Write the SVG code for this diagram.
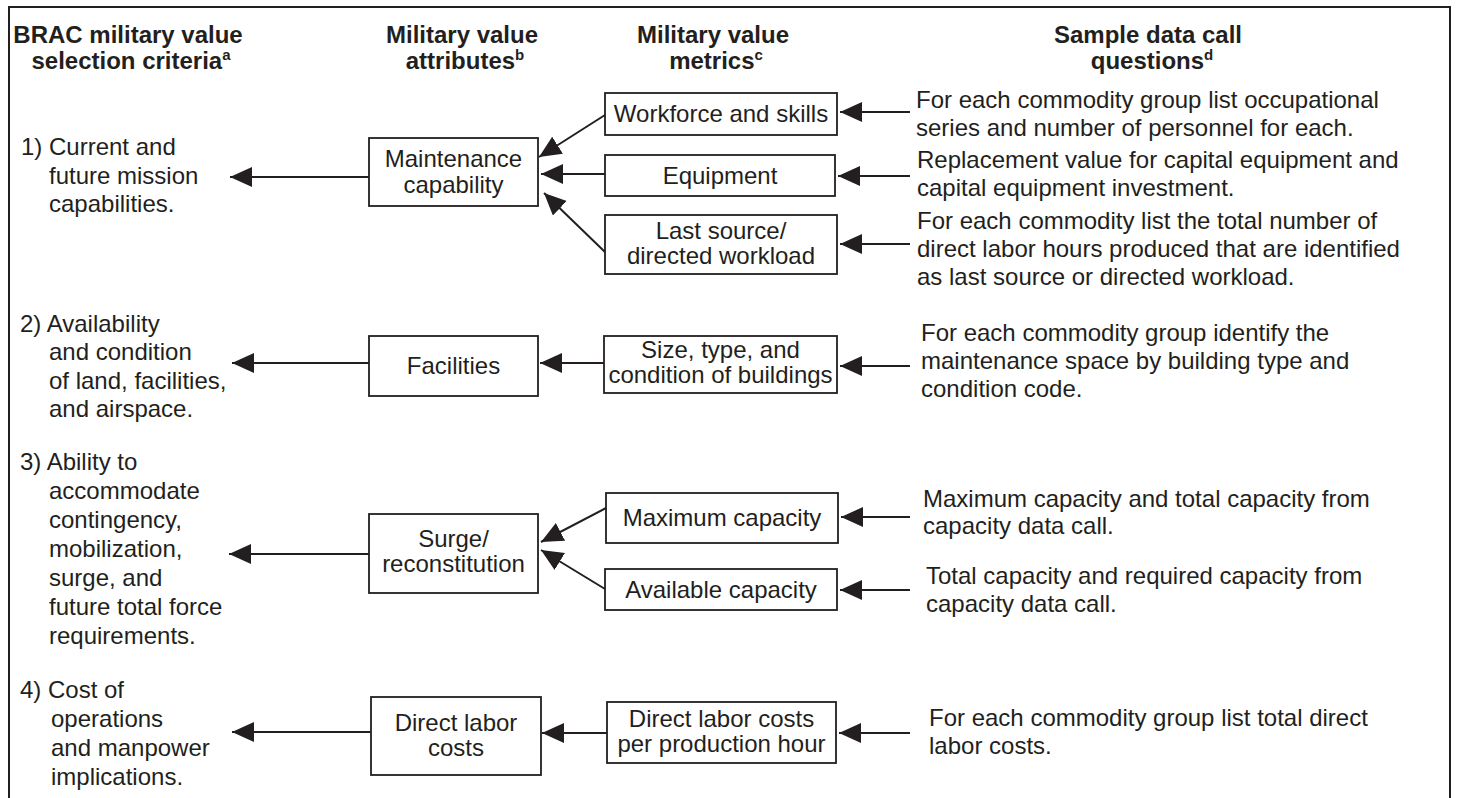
<svg xmlns="http://www.w3.org/2000/svg" width="1457" height="798" viewBox="0 0 1457 798">
<style>
text{font-family:"Liberation Sans",Arial,Helvetica,sans-serif;font-size:24px;fill:#231f20}
.h{font-weight:bold}
.c{text-anchor:middle}
.sup{font-size:15px}
.box{fill:#fff;stroke:#231f20;stroke-width:1.8}
.ln{fill:none;stroke:#231f20;stroke-width:2}
</style>
<defs>
<marker id="ah" markerUnits="userSpaceOnUse" markerWidth="24" markerHeight="22" refX="22" refY="10" orient="auto">
<path d="M0,0 L22,10 L0,20 z" fill="#231f20"/>
</marker>
</defs>
<rect width="1457" height="798" fill="#fff"/>
<path d="M9,798 V7 H1450 V798" fill="none" stroke="#231f20" stroke-width="2"/>

<g id="headers">
<text class="h c" x="128" y="43">BRAC military value</text>
<text class="h c" x="131" y="69">selection criteria<tspan class="sup" dy="-9">a</tspan></text>
<text class="h c" x="462" y="43">Military value</text>
<text class="h c" x="465" y="69">attributes<tspan class="sup" dy="-9">b</tspan></text>
<text class="h c" x="713" y="43">Military value</text>
<text class="h c" x="716" y="69">metrics<tspan class="sup" dy="-9">c</tspan></text>
<text class="h c" x="1148" y="43">Sample data call</text>
<text class="h c" x="1152" y="69">questions<tspan class="sup" dy="-9">d</tspan></text>
</g>

<g id="criterion1">
<text x="21" y="155">1) Current and</text>
<text x="49" y="184">future mission</text>
<text x="49" y="212">capabilities.</text>
</g>
<g id="criterion2">
<text x="20" y="332">2) Availability</text>
<text x="49" y="360">and condition</text>
<text x="49" y="389">of land, facilities,</text>
<text x="49" y="417">and airspace.</text>
</g>
<g id="criterion3">
<text x="20" y="470">3) Ability to</text>
<text x="49" y="499">accommodate</text>
<text x="49" y="528">contingency,</text>
<text x="49" y="557">mobilization,</text>
<text x="49" y="586">surge, and</text>
<text x="49" y="615">future total force</text>
<text x="49" y="644">requirements.</text>
</g>
<g id="criterion4">
<text x="20" y="698">4) Cost of</text>
<text x="51" y="727">operations</text>
<text x="51" y="756">and manpower</text>
<text x="51" y="785">implications.</text>
</g>

<g id="attr-maintenance">
<rect class="box" x="369" y="138" width="169" height="68"/>
<text class="c" x="453.5" y="167">Maintenance</text>
<text class="c" x="453.5" y="193">capability</text>
</g>
<g id="attr-facilities">
<rect class="box" x="369" y="336" width="169" height="60"/>
<text class="c" x="453.5" y="374">Facilities</text>
</g>
<g id="attr-surge">
<rect class="box" x="369" y="514" width="169" height="79"/>
<text class="c" x="453.5" y="547">Surge/</text>
<text class="c" x="453.5" y="572">reconstitution</text>
</g>
<g id="attr-directlabor">
<rect class="box" x="371" y="697" width="170" height="78"/>
<text class="c" x="456" y="731">Direct labor</text>
<text class="c" x="456" y="756">costs</text>
</g>

<g id="metric-workforce">
<rect class="box" x="605" y="93" width="232" height="42"/>
<text class="c" x="721" y="122">Workforce and skills</text>
</g>
<g id="metric-equipment">
<rect class="box" x="605" y="155" width="230" height="41"/>
<text class="c" x="720" y="184">Equipment</text>
</g>
<g id="metric-lastsource">
<rect class="box" x="605" y="215" width="232" height="59"/>
<text class="c" x="721" y="239">Last source/</text>
<text class="c" x="721" y="264">directed workload</text>
</g>
<g id="metric-size">
<rect class="box" x="604" y="336" width="233" height="57"/>
<text class="c" x="720.5" y="358">Size, type, and</text>
<text class="c" x="720.5" y="383">condition of buildings</text>
</g>
<g id="metric-maxcap">
<rect class="box" x="606" y="493" width="232" height="50"/>
<text class="c" x="722" y="526">Maximum capacity</text>
</g>
<g id="metric-availcap">
<rect class="box" x="605" y="569" width="232" height="41"/>
<text class="c" x="721" y="598">Available capacity</text>
</g>
<g id="metric-dlcph">
<rect class="box" x="607" y="702" width="229" height="61"/>
<text class="c" x="721.5" y="727">Direct labor costs</text>
<text class="c" x="721.5" y="752">per production hour</text>
</g>

<g id="question-workforce">
<text x="916" y="108">For each commodity group list occupational</text>
<text x="916" y="136">series and number of personnel for each.</text>
</g>
<g id="question-equipment">
<text x="917" y="168">Replacement value for capital equipment and</text>
<text x="917" y="196">capital equipment investment.</text>
</g>
<g id="question-lastsource">
<text x="917" y="229">For each commodity list the total number of</text>
<text x="917" y="257">direct labor hours produced that are identified</text>
<text x="917" y="285">as last source or directed workload.</text>
</g>
<g id="question-size">
<text x="921" y="341">For each commodity group identify the</text>
<text x="921" y="369">maintenance space by building type and</text>
<text x="921" y="397">condition code.</text>
</g>
<g id="question-maxcap">
<text x="923" y="507">Maximum capacity and total capacity from</text>
<text x="923" y="534">capacity data call.</text>
</g>
<g id="question-availcap">
<text x="926" y="584">Total capacity and required capacity from</text>
<text x="926" y="612">capacity data call.</text>
</g>
<g id="question-dlcph">
<text x="929" y="726">For each commodity group list total direct</text>
<text x="929" y="754">labor costs.</text>
</g>

<g id="connectors" class="ln">
<line class="ln" x1="369" y1="177" x2="230" y2="177" marker-end="url(#ah)"/>
<line class="ln" x1="369" y1="363" x2="232" y2="363" marker-end="url(#ah)"/>
<line class="ln" x1="369" y1="554" x2="229" y2="554" marker-end="url(#ah)"/>
<line class="ln" x1="371" y1="732" x2="232" y2="732" marker-end="url(#ah)"/>

<line class="ln" x1="605" y1="115" x2="539" y2="157" marker-end="url(#ah)"/>
<line class="ln" x1="605" y1="174" x2="541" y2="174" marker-end="url(#ah)"/>
<line class="ln" x1="605" y1="252" x2="544" y2="193" marker-end="url(#ah)"/>
<line class="ln" x1="604" y1="363" x2="540" y2="363" marker-end="url(#ah)"/>
<line class="ln" x1="606" y1="508" x2="541" y2="542" marker-end="url(#ah)"/>
<line class="ln" x1="605" y1="589" x2="541" y2="550" marker-end="url(#ah)"/>
<line class="ln" x1="607" y1="733" x2="542" y2="733" marker-end="url(#ah)"/>

<line class="ln" x1="910" y1="112" x2="840" y2="112" marker-end="url(#ah)"/>
<line class="ln" x1="910" y1="176" x2="838" y2="176" marker-end="url(#ah)"/>
<line class="ln" x1="910" y1="244" x2="840" y2="244" marker-end="url(#ah)"/>
<line class="ln" x1="910" y1="366" x2="840" y2="366" marker-end="url(#ah)"/>
<line class="ln" x1="910" y1="517" x2="841" y2="517" marker-end="url(#ah)"/>
<line class="ln" x1="910" y1="590" x2="840" y2="590" marker-end="url(#ah)"/>
<line class="ln" x1="910" y1="733" x2="839" y2="733" marker-end="url(#ah)"/>
</g>
</svg>
